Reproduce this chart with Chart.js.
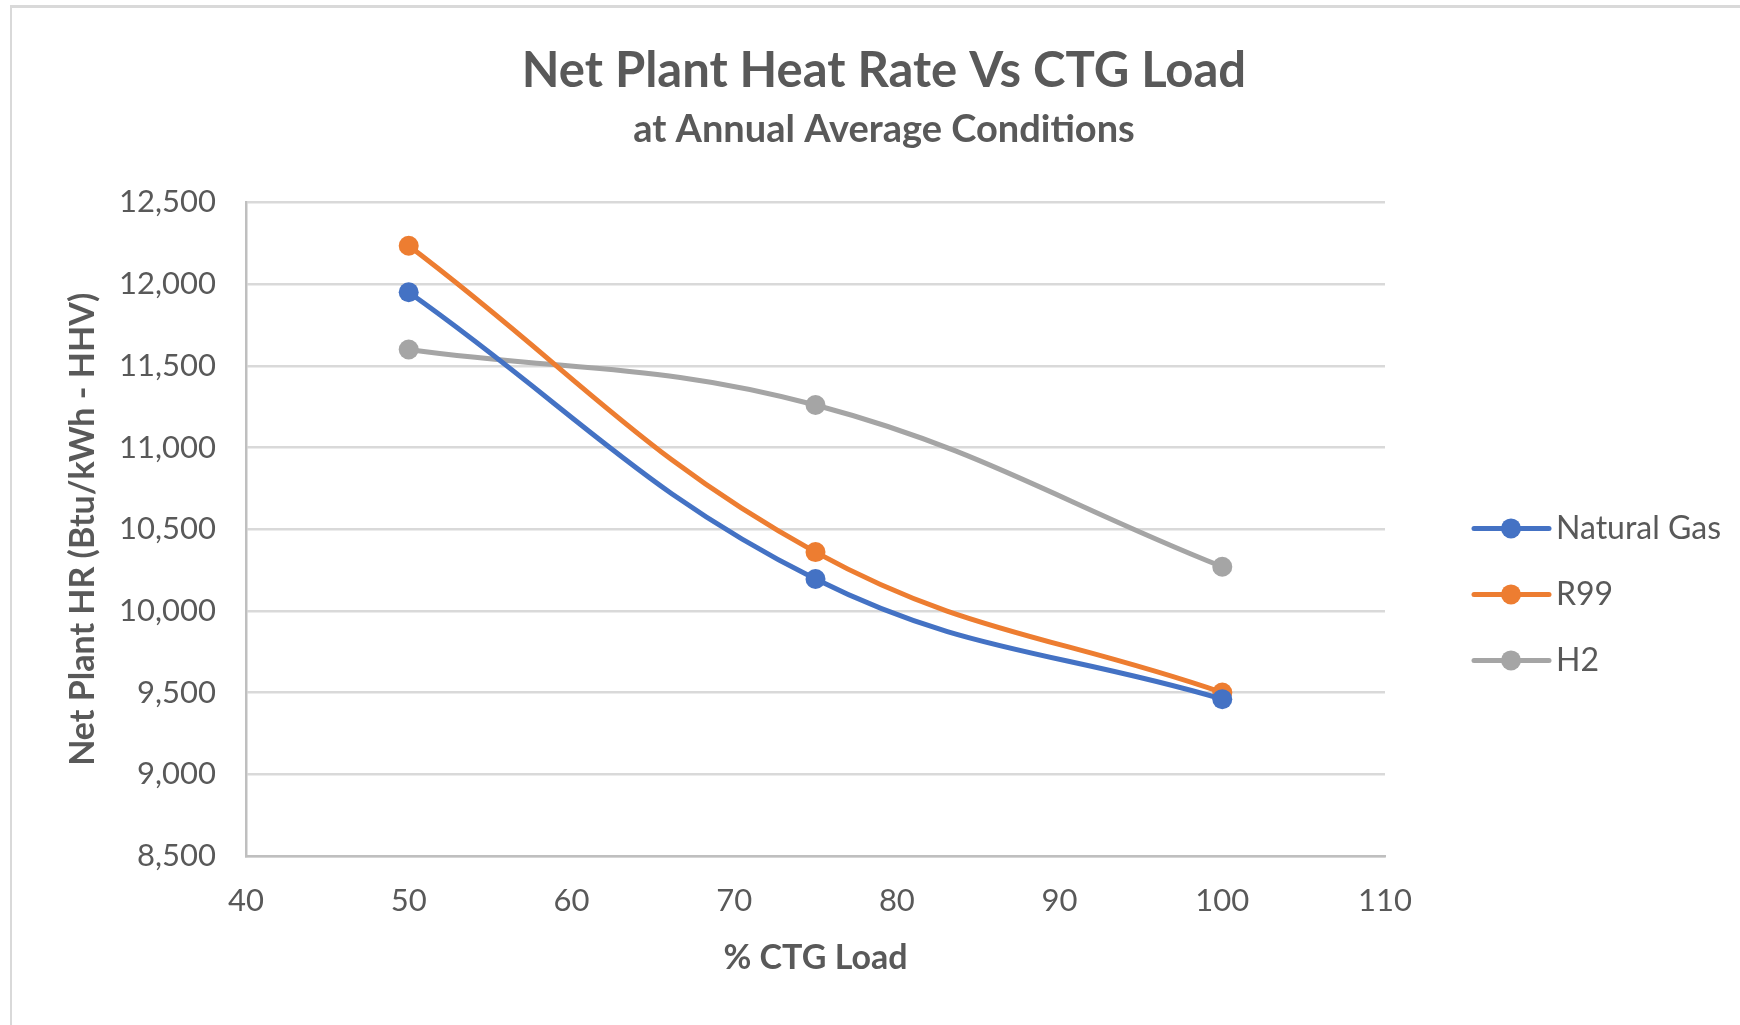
<!DOCTYPE html>
<html>
<head>
<meta charset="utf-8">
<script src="https://cdn.jsdelivr.net/npm/chart.js@4.4.0/dist/chart.umd.min.js"></script>
<style>
  html, body { margin: 0; padding: 0; background: #fff; overflow: hidden; }
  #wrap { position: relative; width: 1740px; height: 1025px; }
  #frame { position: absolute; left: 10px; top: 5px; width: 1800px; height: 1100px;
           border-left: 2px solid #d9d9d9; border-top: 3px solid #d9d9d9; }
  canvas { position: absolute; left: 0; top: 0; }
</style>
</head>
<body>
<div id="wrap">
  <div id="frame"></div>
  <canvas id="myChart" width="1740" height="1025"></canvas>
</div>
<script>
const loads = [50, 75, 100]
const naturalGas = [11950, 10195, 9460]
const r99 = [12235, 10360, 9500]
const h2 = [11600, 11260, 10270]
const xTicks = [40, 50, 60, 70, 80, 90, 100, 110]
const yTicks = [8500, 9000, 9500, 10000, 10500, 11000, 11500, 12000, 12500]

const textColor = '#595959'
const fontFamily = 'Lato, "Open Sans", sans-serif'

function toPoints(values) {
    return loads.map((x, i) => ({ x: x, y: values[i] }))
}

function makeSet(label, values, color) {
    return {
        label: label,
        data: toPoints(values),
        borderColor: color,
        backgroundColor: color,
        borderWidth: 5,
        pointRadius: 10,
        pointHoverRadius: 10,
        pointBorderWidth: 0,
        tension: 0.4,
        fill: false
    }
}

// excel-like legend: line with a marker, drawn beside the plot
const sideLegend = {
    id: 'sideLegend',
    afterDraw(chart) {
        const ctx = chart.ctx
        const area = chart.chartArea
        const x0 = area.right + 89
        chart.data.datasets.forEach((ds, i) => {
            const y = area.top + 326 + i * 66
            ctx.save()
            ctx.strokeStyle = ds.borderColor
            ctx.lineWidth = 5
            ctx.lineCap = 'round'
            ctx.beginPath()
            ctx.moveTo(x0, y)
            ctx.lineTo(x0 + 75, y)
            ctx.stroke()
            ctx.fillStyle = ds.borderColor
            ctx.beginPath()
            ctx.arc(x0 + 37, y, 10, 0, Math.PI * 2)
            ctx.fill()
            ctx.fillStyle = textColor
            ctx.font = '32px ' + fontFamily
            ctx.textBaseline = 'middle'
            ctx.fillText(ds.label, x0 + 82, y)
            ctx.restore()
        })
    }
}

const ctx = document.getElementById('myChart').getContext('2d')

const myChart = new Chart(ctx, {
    type: 'line',
    data: {
        datasets: [
            makeSet('Natural Gas', naturalGas, '#4472C4'),
            makeSet('R99', r99, '#ED7D31'),
            makeSet('H2', h2, '#A5A5A5')
        ]
    },
    plugins: [sideLegend],
    options: {
        responsive: false,
        animation: false,
        layout: { padding: { left: 28, right: 0, top: 0, bottom: 0 } },
        plugins: {
            legend: { display: false },
            tooltip: { enabled: false },
            title: {
                display: true,
                text: 'Net Plant Heat Rate Vs CTG Load',
                color: textColor,
                font: { family: fontFamily, size: 49, weight: 'bold', lineHeight: 1.2 },
                padding: { top: 42, bottom: 6 }
            },
            subtitle: {
                display: true,
                text: 'at Annual Average Conditions',
                color: textColor,
                font: { family: fontFamily, size: 38, weight: 'bold', lineHeight: 1.2 },
                padding: { top: 0, bottom: 50 }
            }
        },
        scales: {
            x: {
                type: 'linear',
                min: 40,
                max: 110,
                afterBuildTicks: (s) => { s.ticks = xTicks.map(v => ({ value: v })) },
                afterFit: (s) => { s.height = 169 },
                grid: { display: false, drawTicks: false },
                border: { display: true, color: '#bfbfbf', width: 2.5 },
                ticks: { color: textColor, font: { family: fontFamily, size: 31 }, padding: 26, maxRotation: 0 },
                title: {
                    display: true,
                    text: '% CTG Load',
                    color: textColor,
                    font: { family: fontFamily, size: 34, weight: 'bold', lineHeight: 1.2 },
                    padding: { top: 0, bottom: 47 }
                }
            },
            y: {
                min: 8500,
                max: 12500,
                afterBuildTicks: (s) => { s.ticks = yTicks.map(v => ({ value: v })) },
                afterFit: (s) => { s.width = 218 },
                grid: { color: '#d9d9d9', lineWidth: 2.5, drawTicks: false },
                border: { display: true, color: '#bfbfbf', width: 2.5 },
                ticks: {
                    color: textColor,
                    font: { family: fontFamily, size: 31 },
                    padding: 30,
                    callback: (v) => v.toLocaleString('en-US')
                },
                title: {
                    display: true,
                    text: 'Net Plant HR (Btu/kWh - HHV)',
                    color: textColor,
                    font: { family: fontFamily, size: 34, weight: 'bold', lineHeight: 1.2 },
                    padding: { top: 35, bottom: 0 }
                }
            },
            yRight: {
                position: 'right',
                min: 0,
                max: 1,
                afterFit: (s) => { s.width = 355 },
                grid: { display: false, drawTicks: false },
                border: { display: false },
                ticks: { display: false }
            }
        }
    }
})
</script>
</body>
</html>
